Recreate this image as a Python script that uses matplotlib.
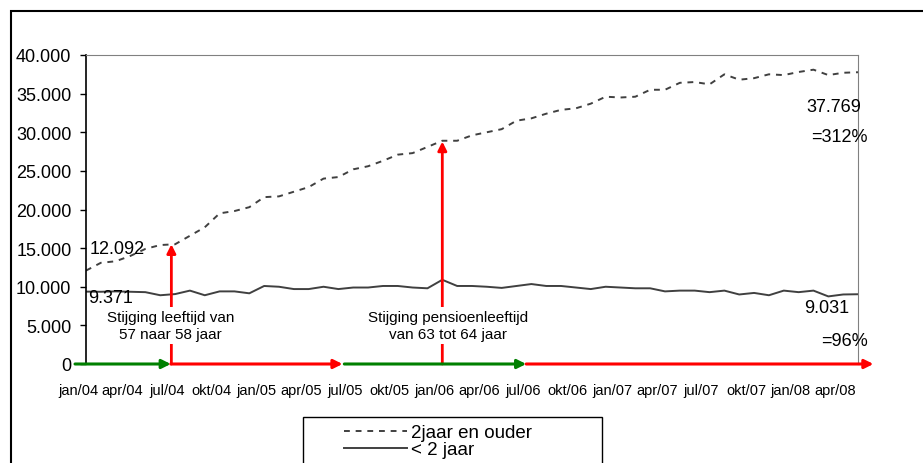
import numpy as np
import matplotlib
matplotlib.use("Agg")
import matplotlib.pyplot as plt
from matplotlib.ticker import FuncFormatter
from matplotlib.patches import Rectangle
from matplotlib.transforms import ScaledTranslation

plt.rcParams['font.family'] = ['Liberation Sans', 'DejaVu Sans']

# maanden jan/04 .. mei/08
maanden = []
for jaar in ['04', '05', '06', '07', '08']:
    for m in ['jan', 'feb', 'mrt', 'apr', 'mei', 'jun', 'jul', 'aug', 'sep', 'okt', 'nov', 'dec']:
        maanden.append(m + '/' + jaar)
maanden = maanden[:53]

oud = [12092, 13100, 13300, 14000, 14900, 15400, 15500, 16600, 17700, 19500,
       19800, 20300, 21600, 21700, 22300, 22900, 24000, 24200, 25200, 25600,
       26300, 27100, 27300, 28100, 28900, 28900, 29600, 30000, 30400, 31500,
       31800, 32400, 32900, 33100, 33700, 34600, 34500, 34600, 35500, 35500,
       36400, 36500, 36200, 37500, 36800, 37000, 37500, 37400, 37800, 38100,
       37400, 37700, 37769]
jong = [9371, 9350, 9400, 9350, 9300, 8900, 9050, 9500, 8900, 9400,
        9400, 9150, 10100, 10000, 9700, 9700, 10000, 9700, 9900, 9900,
        10100, 10100, 9900, 9800, 10900, 10100, 10100, 10000, 9850, 10100,
        10350, 10100, 10100, 9900, 9700, 10000, 9900, 9800, 9800, 9400,
        9500, 9500, 9300, 9500, 9000, 9200, 8900, 9500, 9300, 9500,
        8750, 9000, 9031]

# periodes op de tijdas (maandindex begin, eind, kleur)
periodes = [(-0.74, 5.71, 'green'), (5.71, 17.28, 'red'),
            (17.4, 29.65, 'green'), (29.65, 53.04, 'red')]
# verhogingen leeftijd (maandindex, hoogte pijl, tekstpositie, tekst)
stijgingen = [(5.75, 15500, 5.71, 'Stijging leeftijd van\n57 naar 58 jaar'),
              (24, 28800, 24.4, 'Stijging pensioenleeftijd\nvan 63 tot 64 jaar')]

x = np.arange(len(maanden))

fig = plt.figure(figsize=(9.23, 4.64), dpi=100)
ax = fig.add_axes([86/923, 1-365/464, 772/923, 309/464])

ax.plot(x, oud, color='#404040', lw=1.4, linestyle=(0, (3, 3)), label='2jaar en ouder')
ax.plot(x, jong, color='#404040', lw=1.4, label='< 2 jaar')

ax.set_xlim(0, len(maanden) - 1)
ax.set_ylim(0, 40000)
ax.set_yticks(range(0, 40001, 5000))
ax.yaxis.set_major_formatter(FuncFormatter(lambda v, p: '{:,.0f}'.format(v).replace(',', '.')))
ax.set_xticks(x[::3])
ax.set_xticklabels(maanden[::3], fontsize=10.5)
ax.tick_params(axis='x', length=0, pad=14)
ax.tick_params(axis='y', length=4.5, width=1, direction='out', labelsize=13, pad=6)
for lbl in ax.get_xticklabels():
    lbl.set_transform(lbl.get_transform() + ScaledTranslation(-8/100, 0, fig.dpi_scale_trans))

ax.spines['top'].set_color('#808080')
ax.spines['right'].set_color('#808080')
ax.spines['left'].set_color('black')
ax.spines['left'].set_linewidth(1.2)
ax.spines['bottom'].set_visible(False)

for start, eind, kleur in periodes:
    ax.annotate('', xy=(eind, 0), xytext=(start, 0),
                arrowprops=dict(arrowstyle='-|>', color=kleur, lw=2.2,
                                mutation_scale=13, shrinkA=0, shrinkB=0),
                annotation_clip=False, zorder=5)

for xm, hoogte, xt, tekst in stijgingen:
    ax.annotate('', xy=(xm, hoogte), xytext=(xm, 0),
                arrowprops=dict(arrowstyle='-|>', color='red', lw=2,
                                mutation_scale=13, shrinkA=0, shrinkB=0),
                annotation_clip=False, zorder=4)
    ax.text(xt, 5000, tekst, fontsize=11, ha='center', va='center',
            linespacing=1.25, zorder=6,
            bbox=dict(facecolor='white', edgecolor='none', pad=2.0))

ax.text(0.27, 14890, '12.092', fontsize=13, ha='left', va='center', zorder=6)
ax.text(0.13, 8670, '9.371', fontsize=13, ha='left', va='center', zorder=6)
ax.text(52.24, 33300, '37.769', fontsize=13, ha='right', va='center', clip_on=False)
ax.text(52.64, 29400, '=312%', fontsize=13, ha='right', va='center', clip_on=False)
ax.text(51.43, 7250, '9.031', fontsize=13, ha='right', va='center')
ax.text(52.64, 2980, '=96%', fontsize=13, ha='right', va='center', clip_on=False)

leg = fig.legend(loc='upper left', bbox_to_anchor=(344/923, 1-425/464),
                 frameon=False, fontsize=13.5, handlelength=3.35,
                 handletextpad=0.2, labelspacing=0.0, borderpad=0,
                 borderaxespad=0)

fig.add_artist(Rectangle((303/923, -0.05), 299/923, (1-418/464) + 0.05,
                         transform=fig.transFigure, fill=False,
                         edgecolor='black', lw=1))
fig.add_artist(Rectangle((11/923, -0.05), 1.0, (1-12/464) + 0.05,
                         transform=fig.transFigure, fill=False,
                         edgecolor='black', lw=1.5))

fig.savefig('out.png', dpi=100)
